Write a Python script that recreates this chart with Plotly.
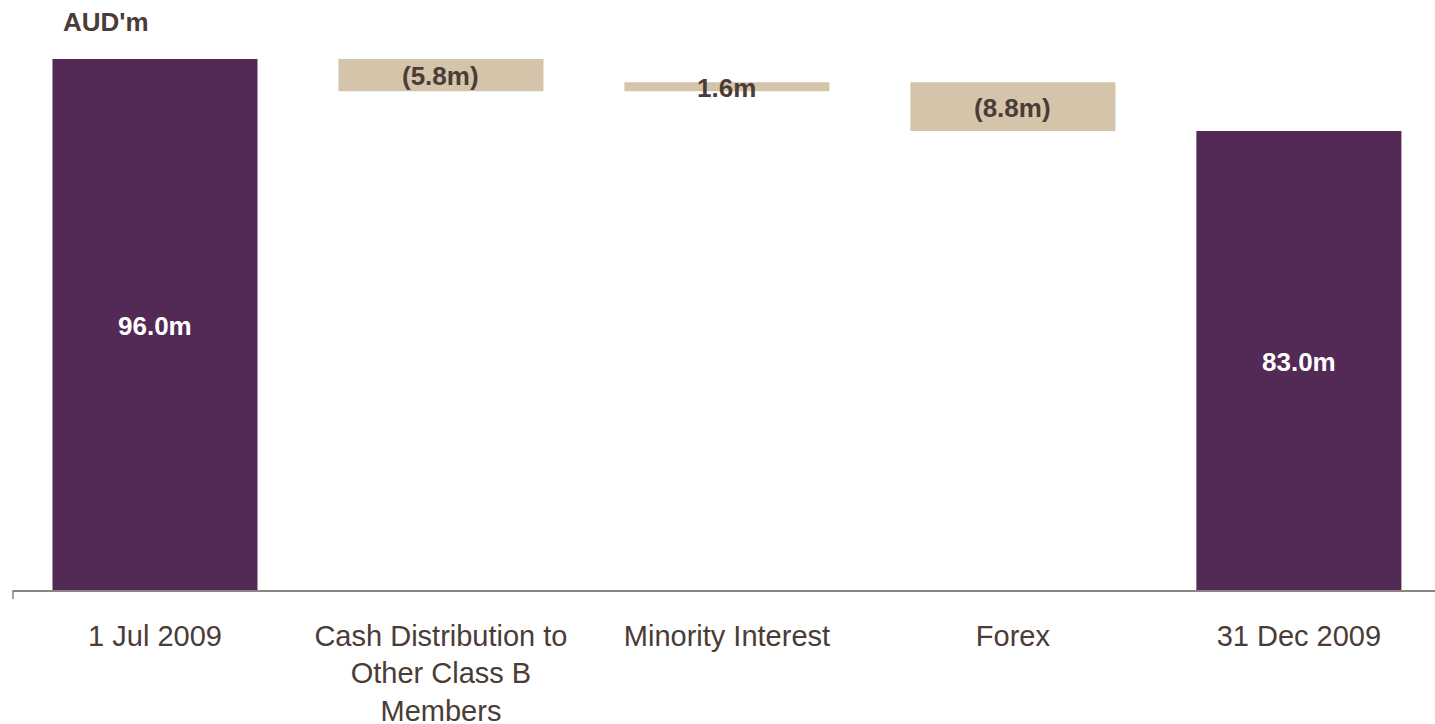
import plotly.graph_objects as go

categories = ["1 Jul 2009", "Cash Distribution to<br>Other Class B<br>Members", "Minority Interest", "Forex", "31 Dec 2009"]
values = [96.0, -5.8, 1.6, -8.8, 83.0]
kinds = ["total", "delta", "delta", "delta", "total"]
labels = ["96.0m", "(5.8m)", "1.6m", "(8.8m)", "83.0m"]

PURPLE = "#532A55"
TAN = "#D4C5AA"
DARK = "#4A3C36"

bases, heights, mids, colors, tcolors = [], [], [], [], []
running = 0.0
for v, k in zip(values, kinds):
    if k == "total":
        lo, hi = 0.0, v
        running = v
        colors.append(PURPLE)
        tcolors.append("white")
    else:
        start, end = running, running + v
        lo, hi = min(start, end), max(start, end)
        running = end
        colors.append(TAN)
        tcolors.append(DARK)
    bases.append(lo)
    heights.append(hi - lo)
    mids.append((lo + hi) / 2)

fig = go.Figure()
fig.add_trace(go.Bar(x=categories, y=heights, base=bases, marker=dict(color=colors, line=dict(width=0)),
                     width=0.717, hoverinfo="skip"))

annotations = [dict(text="<b>AUD'm</b>", xref="paper", yref="paper", x=48 / 1422, y=1 + 15 / 553,
                    xanchor="left", yanchor="middle", showarrow=False,
                    font=dict(family="Liberation Sans, Arial", size=26, color=DARK))]
for c, m, t, tc in zip(categories, mids, labels, tcolors):
    annotations.append(dict(x=c, y=m, xref="x", yref="y", text="<b>%s</b>" % t, showarrow=False,
                            xanchor="center", yanchor="middle", yshift=-1,
                            font=dict(family="Liberation Sans, Arial", size=26, color=tc)))

fig.update_layout(
    width=1435, height=724,
    margin=dict(l=13, r=0, t=37, b=134, autoexpand=False),
    paper_bgcolor="white", plot_bgcolor="white",
    showlegend=False,
    font=dict(family="Liberation Sans, Arial", color=DARK),
    xaxis=dict(type="category", range=[-0.4965, 4.476], showline=True, linecolor="#8C8480", linewidth=1.5,
               showgrid=False, zeroline=False, ticks="", tickfont=dict(size=29, color=DARK),
               ticklabelstandoff=19, automargin=False),
    yaxis=dict(range=[0, 100], visible=False, showgrid=False, zeroline=False, automargin=False),
    annotations=annotations,
    shapes=[dict(type="line", xref="paper", yref="paper", x0=0, x1=0, ysizemode="pixel", yanchor=0,
                 y0=0, y1=-9, line=dict(color="#8C8480", width=1.5))],
)

fig.write_html("out.html", config={"displayModeBar": False},
               post_script="document.body.style.margin='0';document.body.style.overflow='hidden';")
